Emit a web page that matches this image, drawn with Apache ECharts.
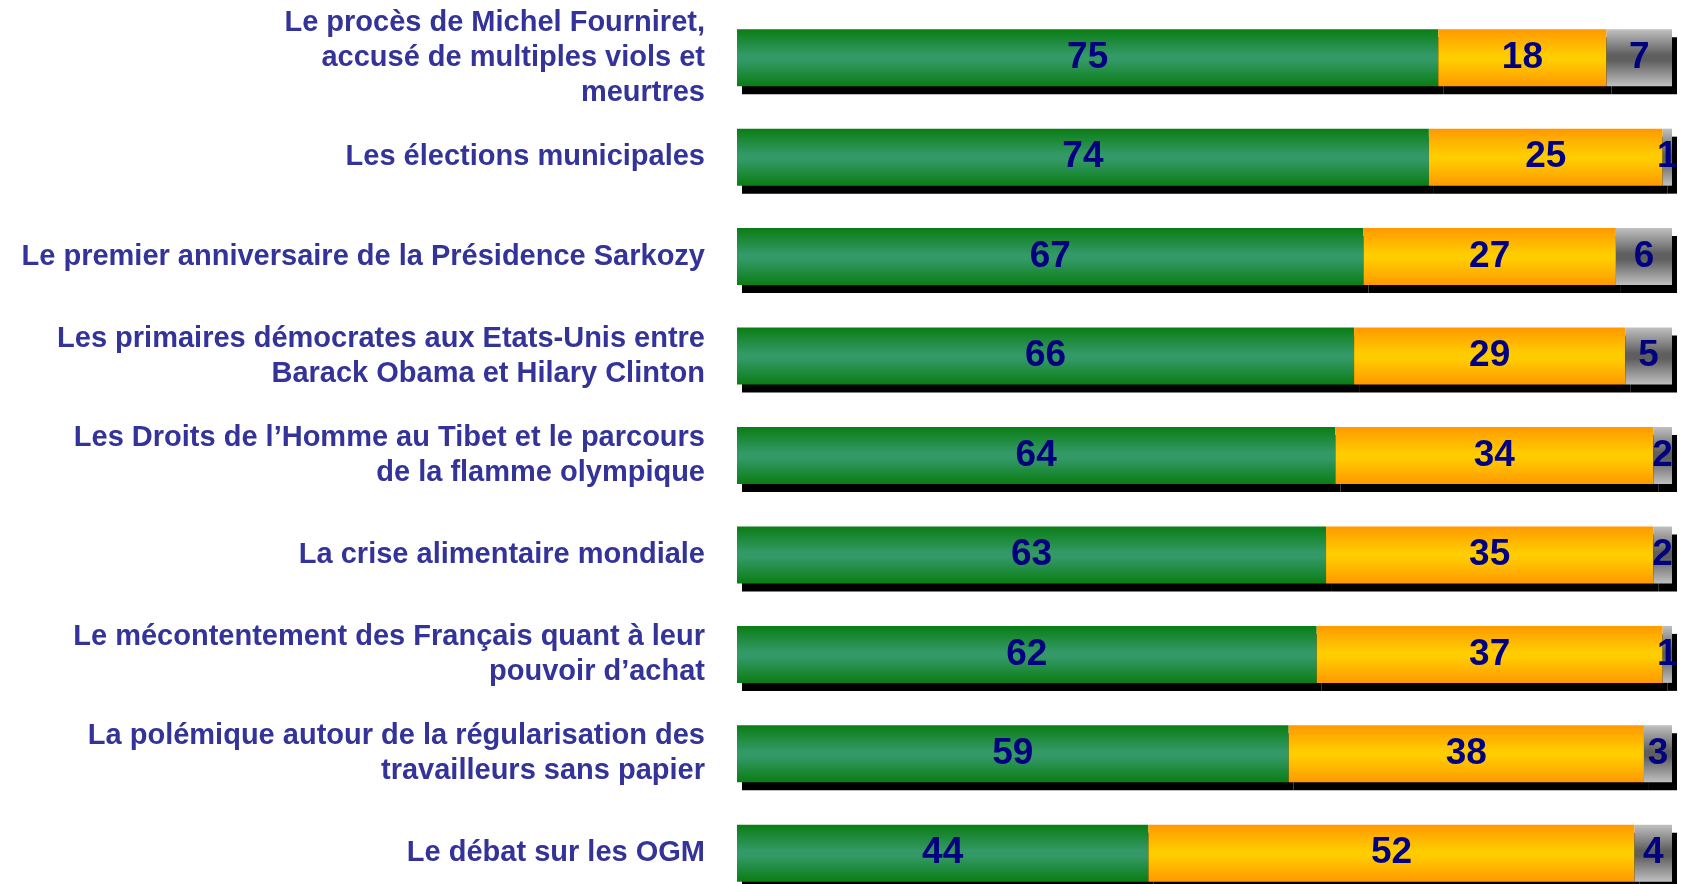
<!DOCTYPE html>
<html>
<head>
<meta charset="utf-8">
<title>Sujets</title>
<script src="https://cdn.jsdelivr.net/npm/echarts@6/dist/echarts.min.js"></script>
<style>
html, body { margin: 0; padding: 0; background: #fff; }
#chart { width: 1681px; height: 884px; }
</style>
</head>
<body>
<div id="chart"></div>
<script>
// catégories (de haut en bas)
var categories = [
    "Le procès de Michel Fourniret,\naccusé de multiples viols et\nmeurtres",
    "Les élections municipales",
    "Le premier anniversaire de la Présidence Sarkozy",
    "Les primaires démocrates aux Etats-Unis entre\nBarack Obama et Hilary Clinton",
    "Les Droits de l’Homme au Tibet et le parcours\nde la flamme olympique",
    "La crise alimentaire mondiale",
    "Le mécontentement des Français quant à leur\npouvoir d’achat",
    "La polémique autour de la régularisation des\ntravailleurs sans papier",
    "Le débat sur les OGM"
];
var greenValues = [75, 74, 67, 66, 64, 63, 62, 59, 44];
var orangeValues = [18, 25, 27, 29, 34, 35, 37, 38, 52];
var greyValues = [7, 1, 6, 5, 2, 2, 1, 3, 4];

// dégradé vertical bord / centre / bord
function grad(edge, mid) {
    return {
        type: "linear", x: 0, y: 0, x2: 0, y2: 1,
        colorStops: [
            { offset: 0, color: edge },
            { offset: 0.45, color: mid },
            { offset: 0.55, color: mid },
            { offset: 1, color: edge }
        ]
    };
}

function serie(name, data, color) {
    return {
        name: name,
        type: "bar",
        stack: "total",
        barWidth: 57,
        data: data,
        itemStyle: {
            color: color,
            shadowColor: "#000",
            shadowBlur: 0,
            shadowOffsetX: 5,
            shadowOffsetY: 8
        },
        label: {
            show: true,
            position: "inside",
            color: "#000080",
            fontFamily: "Liberation Sans, Arial, sans-serif",
            fontWeight: "bold",
            fontSize: 37
        }
    };
}

var chart = echarts.init(document.getElementById("chart"));
chart.setOption({
    animation: false,
    grid: { left: 737, right: 9, top: 8, height: 895, outerBoundsMode: "none", containLabel: false },
    xAxis: {
        type: "value",
        min: 0,
        max: 100,
        show: false
    },
    yAxis: {
        type: "category",
        inverse: true,
        data: categories,
        axisLine: { show: false },
        axisTick: { show: false },
        axisLabel: {
            margin: 32,
            color: "#333399",
            fontFamily: "Liberation Sans, Arial, sans-serif",
            fontWeight: "bold",
            fontSize: 29,
            lineHeight: 35,
            align: "right"
        }
    },
    series: [
        serie("vert", greenValues, grad("#0a7d14", "#339966")),
        serie("orange", orangeValues, grad("#ff9900", "#ffcc00")),
        serie("gris", greyValues, grad("#c0c0c0", "#5f5f5f"))
    ]
});
</script>
</body>
</html>
